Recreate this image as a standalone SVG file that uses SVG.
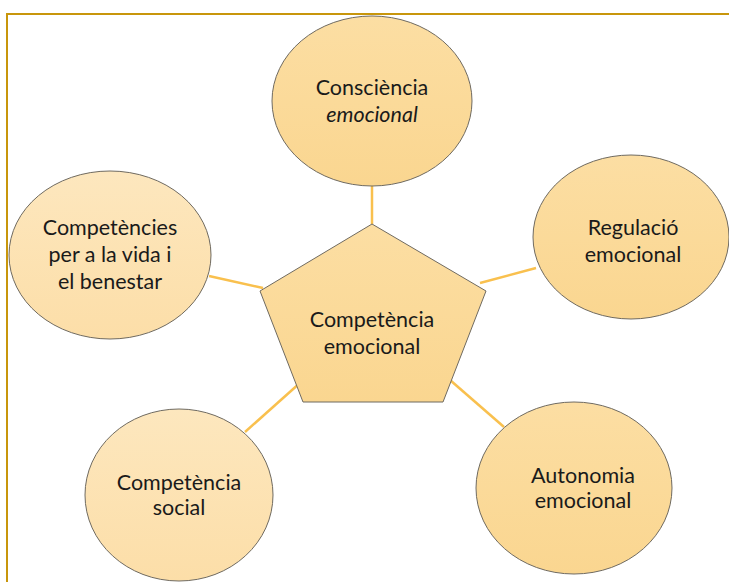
<svg xmlns="http://www.w3.org/2000/svg" width="729" height="582" viewBox="0 0 729 582">
<defs>
<linearGradient id="g" x1="0" y1="0" x2="0" y2="1">
<stop offset="0" stop-color="#FCDEA3"/>
<stop offset="1" stop-color="#FAD690"/>
</linearGradient>
<linearGradient id="gl" x1="0" y1="0" x2="0" y2="1">
<stop offset="0" stop-color="#FDE7BE"/>
<stop offset="1" stop-color="#FCDEA8"/>
</linearGradient>
<style>
.n{fill:url(#g);stroke:#6f6a60;stroke-width:1}
.nl{fill:url(#gl);stroke:#6f6a60;stroke-width:1}
.c{stroke:#F9C04E;stroke-width:2.5;fill:none}
text{font-family:"Lato","Open Sans","Liberation Sans",sans-serif;font-size:21.5px;fill:#1a1a1a;text-anchor:middle}
</style>
</defs>
<rect x="0" y="0" width="729" height="582" fill="#ffffff"/>
<path d="M7,582 V14 H729" fill="none" stroke="#C8960C" stroke-width="2"/>
<g id="connectors">
<line class="c" x1="372" y1="186" x2="372" y2="224"/>
<line class="c" x1="209" y1="276" x2="263" y2="288"/>
<line class="c" x1="480" y1="283" x2="536" y2="268"/>
<line class="c" x1="245" y1="432" x2="301" y2="382"/>
<line class="c" x1="450" y1="380" x2="504" y2="427"/>
</g>
<g id="consciencia">
<ellipse class="n" cx="372" cy="101" rx="100" ry="85"/>
<text x="372" y="95">Consciència</text>
<text x="372" y="122" font-style="italic">emocional</text>
</g>
<g id="regulacio">
<ellipse class="n" cx="631" cy="237" rx="98" ry="82"/>
<text x="633" y="235">Regulació</text>
<text x="633" y="262">emocional</text>
</g>
<g id="competencies-vida">
<ellipse class="nl" cx="110" cy="255" rx="101" ry="84"/>
<text x="110" y="235">Competències</text>
<text x="110" y="262">per a la vida i</text>
<text x="110" y="289">el benestar</text>
</g>
<g id="competencia-social">
<ellipse class="nl" cx="179" cy="495" rx="94" ry="86"/>
<text x="179" y="490">Competència</text>
<text x="179" y="515">social</text>
</g>
<g id="autonomia">
<ellipse class="n" cx="574" cy="488" rx="98" ry="86"/>
<text x="583" y="483">Autonomia</text>
<text x="583" y="508">emocional</text>
</g>
<g id="competencia-emocional">
<polygon class="n" points="372,224 486,291 443,402 303,402 260,291"/>
<text x="372" y="327">Competència</text>
<text x="372" y="354">emocional</text>
</g>
</svg>
